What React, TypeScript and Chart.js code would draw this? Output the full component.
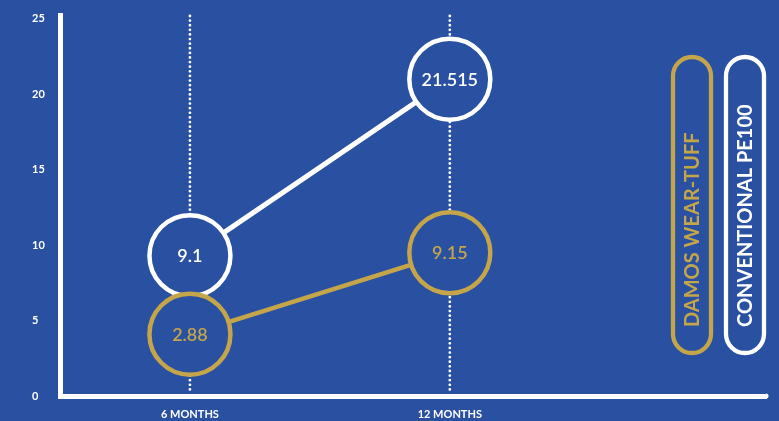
import React, { useEffect, useRef } from 'react';
import { Chart, registerables } from 'chart.js';
Chart.register(...registerables);

const months = [6, 12];
const monthLabels = ['6 MONTHS', '12 MONTHS'];
const seriesNames = ['DAMOS WEAR-TUFF', 'CONVENTIONAL PE100'];
const wearTuffValues = [4.1, 9.5];
const wearTuffLabels = ['2.88', '9.15'];
const pe100Values = [9.3, 21.0];
const pe100Labels = ['9.1', '21.515'];
const yTicks = [0, 5, 10, 15, 20, 25];

const BG = '#2A50A2';
const GOLD = '#C4A54A';
const WHITE = '#FFFFFF';
const FONT = 'Lato, "Open Sans", sans-serif';

const bgPlugin = {
  id: 'bgFill',
  beforeDraw(chart: any) {
    const { ctx, width, height } = chart;
    ctx.save();
    ctx.fillStyle = BG;
    ctx.fillRect(0, 0, width, height);
    ctx.restore();
  },
};

const dottedPlugin = {
  id: 'dotted',
  beforeDatasetsDraw(chart: any) {
    const { ctx, chartArea, scales } = chart;
    ctx.save();
    ctx.strokeStyle = WHITE;
    ctx.lineWidth = 2.8;
    ctx.lineCap = 'round';
    ctx.setLineDash([0.01, 4.6]);
    months.forEach((m) => {
      const x = scales.x.getPixelForValue(m);
      ctx.beginPath();
      ctx.moveTo(x, chartArea.top + 1);
      ctx.lineTo(x, chartArea.bottom - 3);
      ctx.stroke();
    });
    ctx.restore();
  },
};

const valueLabelPlugin = {
  id: 'valueLabels',
  afterDatasetsDraw(chart: any) {
    const { ctx } = chart;
    ctx.save();
    ctx.textAlign = 'center';
    ctx.textBaseline = 'middle';
    ctx.font = `600 18px ${FONT}`;
    chart.data.datasets.forEach((ds: any, i: number) => {
      const meta = chart.getDatasetMeta(i);
      ctx.fillStyle = ds.borderColor;
      meta.data.forEach((pt: any, j: number) => {
        ctx.fillText(ds.valueLabels[j], pt.x, pt.y + 1);
      });
    });
    ctx.restore();
  },
};

const axisCapPlugin = {
  id: 'axisCap',
  afterDraw(chart: any) {
    const { ctx, chartArea } = chart;
    ctx.save();
    ctx.fillStyle = WHITE;
    ctx.beginPath();
    ctx.arc(chartArea.right, chartArea.bottom, 2.5, -Math.PI / 2, Math.PI / 2);
    ctx.fill();
    ctx.restore();
  },
};

const pillLegendPlugin = {
  id: 'pillLegend',
  afterDraw(chart: any) {
    const { ctx, chartArea } = chart;
    const n = chart.data.datasets.length;
    const w = 38;
    const step = 53;
    const top = chartArea.top + 42;
    const bottom = chartArea.bottom - 43;
    const h = bottom - top;
    const rightCenter = chartArea.right - 21;
    ctx.save();
    chart.data.datasets.forEach((ds: any, i: number) => {
      const cx = rightCenter - (n - 1 - i) * step;
      const x = cx - w / 2;
      ctx.strokeStyle = ds.borderColor;
      ctx.lineWidth = 4.3;
      ctx.beginPath();
      ctx.roundRect(x, top, w, h, w / 2);
      ctx.stroke();
      ctx.save();
      ctx.translate(cx, bottom - 26);
      ctx.rotate(-Math.PI / 2);
      ctx.fillStyle = ds.borderColor;
      ctx.font = `700 20px ${FONT}`;
      ctx.textAlign = 'left';
      ctx.textBaseline = 'middle';
      ctx.fillText(ds.label, 0, 1);
      ctx.restore();
    });
    ctx.restore();
  },
};

export default function App() {
  const ref = useRef<HTMLCanvasElement>(null);
  useEffect(() => {
    document.body.style.margin = '0';
    const canvas = ref.current!;
    const chart = new Chart(canvas, {
      type: 'line',
      data: {
        datasets: [
          {
            label: seriesNames[0],
            data: months.map((m, i) => ({ x: m, y: wearTuffValues[i] })),
            borderColor: GOLD,
            borderWidth: 4.5,
            pointRadius: 40.5,
            pointHoverRadius: 40.5,
            pointBorderWidth: 4.5,
            pointHoverBorderWidth: 4.5,
            pointBackgroundColor: BG,
            pointBorderColor: GOLD,
            valueLabels: wearTuffLabels,
            clip: false,
          } as any,
          {
            label: seriesNames[1],
            data: months.map((m, i) => ({ x: m, y: pe100Values[i] })),
            borderColor: WHITE,
            borderWidth: 5,
            pointRadius: 40.5,
            pointHoverRadius: 40.5,
            pointBorderWidth: 4.5,
            pointHoverBorderWidth: 4.5,
            pointBackgroundColor: BG,
            pointBorderColor: WHITE,
            valueLabels: pe100Labels,
            clip: false,
          } as any,
        ],
      },
      options: {
        animation: false,
        responsive: false,
        events: [],
        layout: { autoPadding: false, padding: { left: 32, right: 13, top: 15, bottom: 0 } },
        plugins: { legend: { display: false }, tooltip: { enabled: false } },
        scales: {
          x: {
            type: 'linear',
            min: 3,
            max: 19.3,
            grid: { display: false },
            border: { display: true, color: WHITE, width: 5 },
            afterBuildTicks: (scale: any) => {
              scale.ticks = months.map((v) => ({ value: v }));
            },
            afterFit: (scale: any) => {
              scale.height = 25;
            },
            ticks: {
              autoSkip: false,
              maxRotation: 0,
              color: WHITE,
              padding: 4,
              font: { family: FONT, size: 11, weight: 'bold' },
              callback: (v: any) => monthLabels[months.indexOf(Number(v))] ?? '',
            },
          },
          y: {
            min: 0,
            max: 25.25,
            grid: { display: false },
            border: { display: true, color: WHITE, width: 5 },
            afterBuildTicks: (scale: any) => {
              scale.ticks = yTicks.map((v) => ({ value: v }));
            },
            afterFit: (scale: any) => {
              scale.width = 28;
            },
            ticks: {
              autoSkip: false,
              color: WHITE,
              crossAlign: 'far',
              font: { family: FONT, size: 11, weight: 'bold' },
            },
          },
        },
      } as any,
      plugins: [bgPlugin, dottedPlugin, valueLabelPlugin, axisCapPlugin, pillLegendPlugin],
    });
    return () => chart.destroy();
  }, []);
  return (
    <div style={{ width: 779, height: 421, background: BG }}>
      <canvas ref={ref} width={779} height={421} style={{ display: 'block' }} />
    </div>
  );
}
